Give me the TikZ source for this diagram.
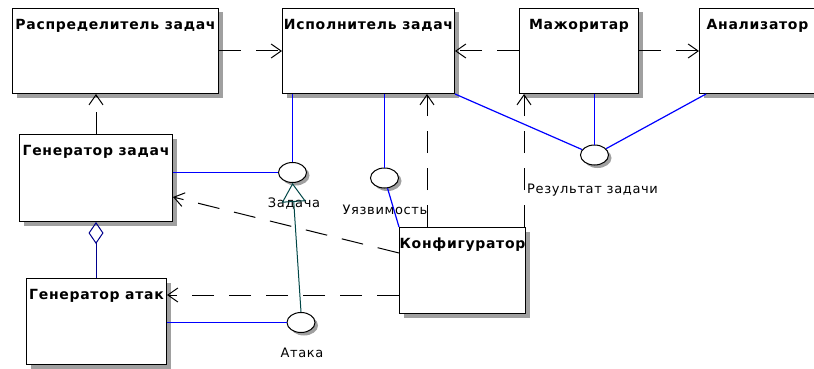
\documentclass[tikz,border=0pt]{standalone}
\usepackage{fontspec}
\setmainfont{DejaVu Sans}[LetterSpace=5]
\usetikzlibrary{arrows.meta,shadows,shapes.geometric}
\definecolor{shd}{RGB}{160,160,160}
\definecolor{ifblue}{RGB}{0,0,255}
\definecolor{aggnavy}{RGB}{0,0,140}
\definecolor{genteal}{RGB}{0,70,70}
\tikzset{
  box/.style={draw=black, line width=1pt, fill=white, inner sep=0pt, anchor=north west,
    drop shadow={shadow xshift=4pt, shadow yshift=-4pt, fill=shd, opacity=1},
    font=\bfseries\fontsize{14}{16}\selectfont, text height=21pt},
  iface/.style={draw=black, line width=1pt, fill=white, ellipse, inner sep=0pt,
    minimum width=28pt, minimum height=20pt,
    drop shadow={shadow xshift=3pt, shadow yshift=-3pt, fill=shd, opacity=1}},
  lbl/.style={font=\fontsize{13}{15}\selectfont, inner sep=0pt},
  dep/.style={draw=black, line width=1pt, dash pattern=on 22pt off 15pt,
    -{Straight Barb[length=10pt,width=14pt,line width=1pt]}},
  bline/.style={draw=ifblue, line width=1.2pt},
  agg/.style={draw=aggnavy, line width=1pt, {Diamond[open,length=22pt,width=15pt]}-},
  gen/.style={draw=genteal, line width=1pt, -{Triangle[open,length=19pt,width=24pt]}}
}
\begin{document}
\begin{tikzpicture}[x=1pt,y=-1pt]
\useasboundingbox (0,0) rectangle (814,369);
% boxes
\node[box, minimum width=206pt, minimum height=85pt, text depth=64pt] (rasp) at (12,8) {\makebox[0pt]{Распределитель задач}};
\node[box, minimum width=172pt, minimum height=85pt, text depth=64pt] (isp) at (282,8) {\makebox[0pt]{Исполнитель задач}};
\node[box, minimum width=119pt, minimum height=85pt, text depth=64pt] (maj) at (519,8) {\makebox[0pt]{Мажоритар}};
\node[box, minimum width=116pt, minimum height=85pt, text depth=64pt] (anal) at (699,8) {\makebox[0pt]{Анализатор}};
\node[box, minimum width=153pt, minimum height=87pt, text depth=66pt] (gz) at (19,134) {\makebox[0pt]{Генератор задач}};
\node[box, minimum width=140pt, minimum height=86pt, text depth=65pt] (ga) at (26,278) {\makebox[0pt]{Генератор атак}};
\node[box, minimum width=126pt, minimum height=86pt, text depth=65pt] (konf) at (399,227) {\makebox[0pt]{Конфигуратор}};
% interfaces
\node[iface] (iz) at (292.5,172.5) {};
\node[iface] (iu) at (384.5,178) {};
\node[iface] (ia) at (301,322.5) {};
\node[iface] (ir) at (594.5,155) {};
% labels
\node[lbl] (lz) at (294,204) {Задача};
\node[lbl] (lu) at (385,210) {Уязвимость};
\node[lbl] (la) at (302,353) {Атака};
\node[lbl, anchor=west] (lr) at (527,190) {Результат задачи};
% dependencies
\draw[dep] (rasp.east) -- (isp.west);
\draw[dep] (maj.west) -- (isp.east);
\draw[dep] (maj.east) -- (anal.west);
\draw[dep] (gz.north) -- (rasp.south -| gz.north);
\draw[dep] ([xshift=28pt]konf.north west) -- ([xshift=28pt]konf.north west |- isp.south);
\draw[dep] ([xshift=-2pt]konf.north east) -- ([xshift=-2pt]konf.north east |- maj.south);
\draw[dep] ([yshift=-26pt]konf.north west) -- ([yshift=-63pt]gz.north east);
\draw[dep] ([yshift=-68pt]konf.north west) -- ([yshift=-68pt]konf.north west -| ga.east);
% interface lines
\draw[bline] (iz.north |- isp.south) -- (iz.north);
\draw[bline] (iu.north |- isp.south) -- (iu.north);
\draw[bline] (isp.south east) -- (ir);
\draw[bline] (ir.north |- maj.south) -- (ir.north);
\draw[bline] ([xshift=7pt]anal.south west) -- (ir);
\draw[bline] (gz.east |- iz.west) -- (iz.west);
\draw[bline] (ga.east |- ia.west) -- (ia.west);
\draw[bline] (iu) -- (konf.north west);
% aggregation and generalization
\draw[agg] (gz.south) -- (ga.north -| gz.south);
\draw[gen] (ia.north) -- (iz.south);
\end{tikzpicture}
\end{document}
